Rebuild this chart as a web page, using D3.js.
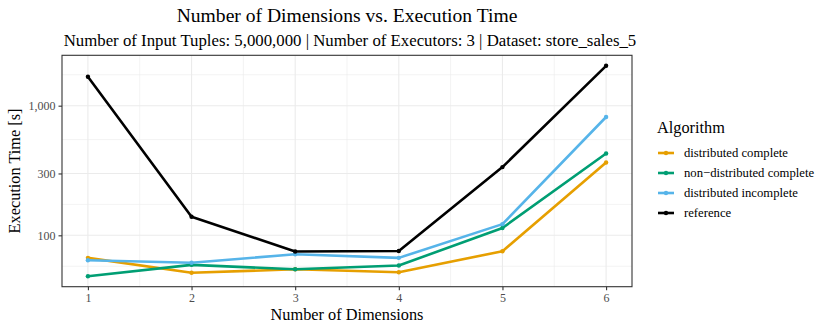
<!DOCTYPE html>
<html><head><meta charset="utf-8">
<script src="https://cdn.jsdelivr.net/npm/d3@7"></script>
<style>body{margin:0;background:#fff}svg text{font-family:"Liberation Serif","Times New Roman",serif}</style>
</head><body>
<svg id="c" width="830" height="332"></svg>
<script>
const dimensions = [1, 2, 3, 4, 5, 6];
const seriesNames = ["distributed complete", "non\u2212distributed complete", "distributed incomplete", "reference"];
const distributedComplete = [67, 51.4, 54.7, 51.9, 75.4, 365];
const nonDistributedComplete = [48.4, 59.2, 54.7, 58.5, 114, 428];
const distributedIncomplete = [64.3, 61.4, 71.4, 67, 122, 818];
const reference = [1671, 139, 75, 75.6, 336, 2030];
const colors = ["#E69F00", "#009E73", "#56B4E9", "#000000"];
const yTicks = [100, 300, 1000];

const seriesValues = [distributedComplete, nonDistributedComplete, distributedIncomplete, reference];

const svg = d3.select("#c");
const L = 62, R = 632, T = 55.3, B = 286.7;

const allVals = seriesValues.flat();
const lmin = Math.log10(d3.min(allVals)), lmax = Math.log10(d3.max(allVals));
const pad = (lmax - lmin) * 0.05;
const y = d3.scaleLog().domain([Math.pow(10, lmin - pad), Math.pow(10, lmax + pad)]).range([B, T]);
const x = d3.scaleLinear().domain([1 - 0.25, 6 + 0.25]).range([L, R]);

// minor breaks (ggplot regular_minor_breaks in log space)
const lb = yTicks.map(Math.log10);
const bd = lb[1] - lb[0];
const ext = [lb[0] - bd, ...lb, lb[lb.length - 1] + bd];
const minorL = [];
for (let i = 0; i < ext.length - 1; i++) minorL.push((ext[i] + ext[i + 1]) / 2);
const xMinor = [1.5, 2.5, 3.5, 4.5, 5.5];
const ld = y.domain().map(Math.log10);

const g = svg.append("g");
g.append("rect").attr("x", L).attr("y", T).attr("width", R - L).attr("height", B - T).attr("fill", "#fff");
// minor grid
g.selectAll(".ym").data(minorL.filter(v => v > ld[0] && v < ld[1]))
  .enter().append("line").attr("x1", L).attr("x2", R)
  .attr("y1", d => y(Math.pow(10, d))).attr("y2", d => y(Math.pow(10, d)))
  .attr("stroke", "#EBEBEB").attr("stroke-width", 0.6);
g.selectAll(".xm").data(xMinor).enter().append("line")
  .attr("y1", T).attr("y2", B).attr("x1", d => x(d)).attr("x2", d => x(d))
  .attr("stroke", "#EBEBEB").attr("stroke-width", 0.6);
// major grid
g.selectAll(".yM").data(yTicks).enter().append("line").attr("x1", L).attr("x2", R)
  .attr("y1", d => y(d)).attr("y2", d => y(d)).attr("stroke", "#EBEBEB").attr("stroke-width", 1.1);
g.selectAll(".xM").data(dimensions).enter().append("line")
  .attr("y1", T).attr("y2", B).attr("x1", d => x(d)).attr("x2", d => x(d))
  .attr("stroke", "#EBEBEB").attr("stroke-width", 1.1);

// lines
const line = d3.line().x((d, i) => x(dimensions[i])).y(d => y(d));
seriesValues.forEach((vals, si) => {
  g.append("path").datum(vals).attr("d", line).attr("fill", "none")
    .attr("stroke", colors[si]).attr("stroke-width", 2.6).attr("stroke-linejoin", "round");
  g.selectAll(".p" + si).data(vals).enter().append("circle")
    .attr("cx", (d, i) => x(dimensions[i])).attr("cy", d => y(d)).attr("r", 2.2).attr("fill", colors[si]);
});

// border
g.append("rect").attr("x", L).attr("y", T).attr("width", R - L).attr("height", B - T)
  .attr("fill", "none").attr("stroke", "#333333").attr("stroke-width", 1.1);

// axes
const yAxis = d3.axisLeft(y).tickValues(yTicks).tickFormat(d3.format(",")).tickSize(3.5).tickPadding(3);
const ya = svg.append("g").attr("transform", `translate(${L},0)`).call(yAxis);
const xAxis = d3.axisBottom(x).tickValues(dimensions).tickFormat(d3.format("d")).tickSize(3.5).tickPadding(3);
const xa = svg.append("g").attr("transform", `translate(0,${B})`).call(xAxis);
[ya, xa].forEach(a => {
  a.select(".domain").remove();
  a.selectAll(".tick line").attr("stroke", "#333333").attr("stroke-width", 1.1);
  a.selectAll(".tick text").attr("fill", "#4D4D4D").style("font-size", "12px").style("font-family", '"Liberation Serif",serif');
});

// titles
const cx = (L + R) / 2;
svg.append("text").attr("x", cx).attr("y", 21.5).attr("text-anchor", "middle").style("font-size", "19.6px").text("Number of Dimensions vs. Execution Time");
svg.append("text").attr("x", cx + 3).attr("y", 45.5).attr("text-anchor", "middle").style("font-size", "16.8px").text("Number of Input Tuples: 5,000,000 | Number of Executors: 3 | Dataset: store_sales_5");
svg.append("text").attr("x", cx).attr("y", 320).attr("text-anchor", "middle").style("font-size", "16.3px").text("Number of Dimensions");
svg.append("text").attr("transform", `translate(20,${(T + B) / 2}) rotate(-90)`).attr("text-anchor", "middle").style("font-size", "16.3px").text("Execution Time [s]");

// legend
const lg = svg.append("g");
lg.append("text").attr("x", 657).attr("y", 133).style("font-size", "16.3px").text("Algorithm");
seriesNames.forEach((n, i) => {
  const yy = 153 + i * 20;
  lg.append("line").attr("x1", 658).attr("x2", 674).attr("y1", yy).attr("y2", yy).attr("stroke", colors[i]).attr("stroke-width", 2.6);
  lg.append("circle").attr("cx", 666).attr("cy", yy).attr("r", 2.2).attr("fill", colors[i]);
  lg.append("text").attr("x", 684).attr("y", yy + 4).style("font-size", "12.7px").text(n);
});
</script>
</body></html>
